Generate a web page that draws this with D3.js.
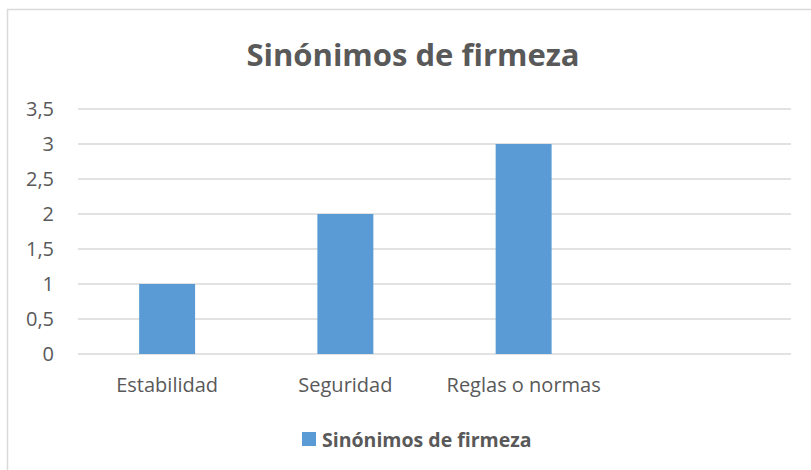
<!DOCTYPE html>
<html>
<head>
<meta charset="utf-8">
<script src="https://cdn.jsdelivr.net/npm/d3@7"></script>
<style>
  body { margin: 0; background: #fff; }
  text { font-family: "Open Sans", "Liberation Sans", sans-serif; fill: #595959; }
</style>
</head>
<body>
<svg id="drawing_region"></svg>
<script>
// data
const categories = ["Estabilidad", "Seguridad", "Reglas o normas", ""];
const values = [1, 2, 3, null];
const seriesName = "Sinónimos de firmeza";
const yTicks = [0, 0.5, 1, 1.5, 2, 2.5, 3, 3.5];

const width = 811, height = 470;

const svg = d3.select('#drawing_region')
    .attr('width', width)
    .attr('height', height);

svg.append('rect')
    .attr('x', 7.5).attr('y', 9.5)
    .attr('width', width).attr('height', height)
    .attr('fill', '#fff')
    .attr('stroke', '#d9d9d9')
    .attr('stroke-width', 1.5);

const xscale = d3.scaleBand()
    .domain(categories.map((d, i) => i))
    .range([78, 791])
    .paddingInner(0.686)
    .paddingOuter(0.343);

const yscale = d3.scaleLinear()
    .domain([0, 3.5])
    .range([354, 109]);

// gridlines
svg.append('g')
    .selectAll('line')
    .data(yTicks)
    .join('line')
    .attr('x1', 78).attr('x2', 791)
    .attr('y1', d => yscale(d)).attr('y2', d => yscale(d))
    .attr('stroke', '#d9d9d9')
    .attr('stroke-width', 1.5);

// y axis labels
const fmt = d => String(d).replace('.', ',');
const yAxis = svg.append('g')
    .attr('transform', 'translate(54,0)')
    .call(d3.axisLeft(yscale).tickValues(yTicks).tickFormat(fmt).tickSize(0).tickPadding(0));
yAxis.select('.domain').remove();
yAxis.selectAll('text')
    .attr('fill', '#595959')
    .style('font-size', '20px')
    .style('font-family', '"Open Sans", sans-serif');

// bars
svg.append('g')
    .selectAll('rect')
    .data(values.map((v, i) => ({ v, i })).filter(d => d.v != null))
    .join('rect')
    .attr('x', d => xscale(d.i))
    .attr('width', xscale.bandwidth())
    .attr('y', d => yscale(d.v))
    .attr('height', d => yscale(0) - yscale(d.v))
    .attr('fill', '#5b9bd5');

// x axis labels
const xAxis = svg.append('g')
    .attr('transform', 'translate(0,354)')
    .call(d3.axisBottom(xscale).tickFormat(i => categories[i]).tickSize(0).tickPadding(24));
xAxis.select('.domain').remove();
xAxis.selectAll('text')
    .attr('fill', '#595959')
    .style('font-size', '20px')
    .style('font-family', '"Open Sans", sans-serif');

// title
svg.append('text')
    .attr('x', 413).attr('y', 66)
    .attr('text-anchor', 'middle')
    .style('font-size', '31px')
    .style('font-weight', 'bold')
    .text(seriesName);

// legend
const legend = svg.append('g').attr('transform', 'translate(302,432)');
legend.append('rect')
    .attr('width', 14).attr('height', 14)
    .attr('fill', '#5b9bd5');
legend.append('text')
    .attr('x', 20).attr('y', 15)
    .style('font-size', '19.5px')
    .style('font-weight', 'bold')
    .text(seriesName);
</script>
</body>
</html>
